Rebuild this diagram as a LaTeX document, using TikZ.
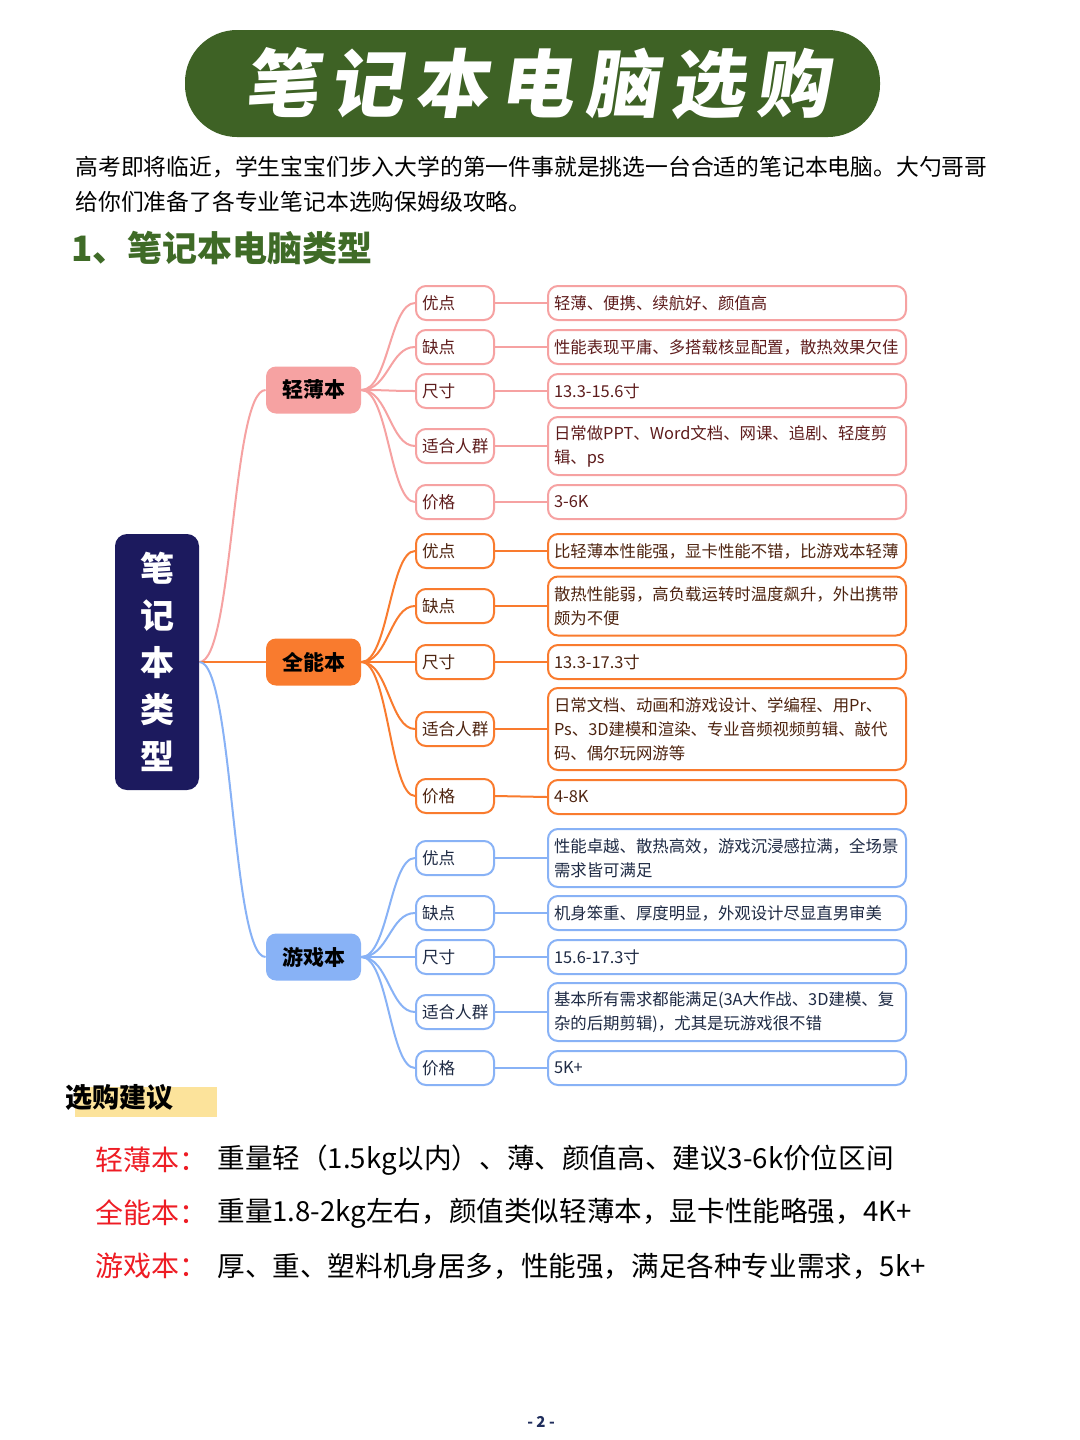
\documentclass[tikz,border=0pt]{standalone}
\usepackage{fontspec}
\usepackage{xcolor}
\usetikzlibrary{positioning}
\setmainfont{Noto Sans CJK SC}
\newfontfamily\titlefont[FakeSlant=0.15,LetterSpace=15]{Noto Sans CJK SC}

\definecolor{titlegreen}{HTML}{3E6225}
\definecolor{headgreen}{HTML}{3F6B27}
\definecolor{rootnavy}{HTML}{1C1A5E}
\definecolor{pinkB}{HTML}{F6A2A2}
\definecolor{pinkT}{HTML}{5E1C1C}
\definecolor{orangeB}{HTML}{F97B2E}
\definecolor{orangeT}{HTML}{4E2410}
\definecolor{blueB}{HTML}{88B2F6}
\definecolor{blueT}{HTML}{1E2A44}
\definecolor{hlyellow}{HTML}{FCE39B}
\definecolor{tipred}{HTML}{EE1C24}
\definecolor{pagenavy}{HTML}{1F2D5C}

\begin{document}
\begin{tikzpicture}[
    x=0.5pt, y=-0.5pt,
    root/.style={fill=rootnavy, text=white, rounded corners=6pt, minimum width=42pt, minimum height=128pt, align=center, font=\fontsize{17}{23.5}\selectfont\bfseries},
    group/.style={rounded corners=5pt, minimum width=47.5pt, minimum height=23.5pt, font=\fontsize{10.5}{12}\selectfont\bfseries},
    item/.style={draw, fill=white, line width=1pt, rounded corners=5pt, anchor=west, text width=33pt, inner xsep=3pt, minimum height=17pt, align=left, font=\fontsize{8.3}{12}\selectfont},
    detail/.style={draw, fill=white, line width=1pt, rounded corners=5pt, anchor=west, text width=173pt, inner xsep=3pt, minimum height=17pt, align=left, font=\fontsize{8.2}{12}\selectfont},
    link/.style={line width=1pt},
    tiplabel/.style={anchor=west, text=tipred, inner sep=0pt, font=\fontsize{14}{16}\selectfont},
    tiptext/.style={anchor=west, inner sep=0pt, font=\fontsize{13.8}{16}\selectfont}
]
    \useasboundingbox[fill=white] (0,0) rectangle (1080,1440);

    % Header
    \node[fill=titlegreen, rounded corners=26pt, minimum width=347.5pt, minimum height=53.5pt] (title) at (532.5,83.5) {};
    \node[text=white, font=\titlefont\bfseries\fontsize{37}{40}\selectfont] (titletext) at (537,83.5) {笔记本电脑选购};
    \node[anchor=west, inner sep=0pt, font=\fontsize{11.4}{14}\selectfont] (intro1) at (75,167) {高考即将临近，学生宝宝们步入大学的第一件事就是挑选一台合适的笔记本电脑。大勺哥哥};
    \node[anchor=west, inner sep=0pt, font=\fontsize{11.4}{14}\selectfont] (intro2) at (75,202) {给你们准备了各专业笔记本选购保姆级攻略。};
    \node[anchor=west, inner sep=0pt, text=headgreen, font=\fontsize{17.5}{20}\selectfont\bfseries] (heading) at (71,248) {1、笔记本电脑类型};

    % Root and groups
    \node[root] (types) at (157,662) {笔\\记\\本\\类\\型};
    \node[group, fill=pinkB] (thin) at (313.5,390) {轻薄本};
    \node[group, fill=orangeB] (allround) at (313.5,662) {全能本};
    \node[group, fill=blueB] (gaming) at (313.5,957) {游戏本};

    % Thin and light
    \node[item, draw=pinkB, text=pinkT] (thin-pro) at (415,303) {优点};
    \node[item, draw=pinkB, text=pinkT] (thin-con) at (415,347) {缺点};
    \node[item, draw=pinkB, text=pinkT] (thin-size) at (415,391) {尺寸};
    \node[item, draw=pinkB, text=pinkT] (thin-user) at (415,446) {适合人群};
    \node[item, draw=pinkB, text=pinkT] (thin-price) at (415,502) {价格};
    \node[detail, draw=pinkB, text=pinkT] (thin-pro-d) at (547,303) {轻薄、便携、续航好、颜值高};
    \node[detail, draw=pinkB, text=pinkT] (thin-con-d) at (547,347) {性能表现平庸、多搭载核显配置，散热效果欠佳};
    \node[detail, draw=pinkB, text=pinkT] (thin-size-d) at (547,391) {13.3-15.6寸};
    \node[detail, draw=pinkB, text=pinkT, minimum height=29pt] (thin-user-d) at (547,446) {日常做PPT、Word文档、网课、追剧、轻度剪\\辑、ps};
    \node[detail, draw=pinkB, text=pinkT] (thin-price-d) at (547,502) {3-6K};

    % All-round
    \node[item, draw=orangeB, text=orangeT] (all-pro) at (415,551) {优点};
    \node[item, draw=orangeB, text=orangeT] (all-con) at (415,606) {缺点};
    \node[item, draw=orangeB, text=orangeT] (all-size) at (415,662) {尺寸};
    \node[item, draw=orangeB, text=orangeT] (all-user) at (415,729) {适合人群};
    \node[item, draw=orangeB, text=orangeT] (all-price) at (415,796) {价格};
    \node[detail, draw=orangeB, text=orangeT] (all-pro-d) at (547,551) {比轻薄本性能强，显卡性能不错，比游戏本轻薄};
    \node[detail, draw=orangeB, text=orangeT, minimum height=29.5pt] (all-con-d) at (547,606) {散热性能弱，高负载运转时温度飙升，外出携带\\颇为不便};
    \node[detail, draw=orangeB, text=orangeT] (all-size-d) at (547,662) {13.3-17.3寸};
    \node[detail, draw=orangeB, text=orangeT, minimum height=41pt] (all-user-d) at (547,729) {日常文档、动画和游戏设计、学编程、用Pr、\\Ps、3D建模和渲染、专业音频视频剪辑、敲代\\码、偶尔玩网游等};
    \node[detail, draw=orangeB, text=orangeT] (all-price-d) at (547,797) {4-8K};

    % Gaming
    \node[item, draw=blueB, text=blueT] (game-pro) at (415,858) {优点};
    \node[item, draw=blueB, text=blueT] (game-con) at (415,913) {缺点};
    \node[item, draw=blueB, text=blueT] (game-size) at (415,957) {尺寸};
    \node[item, draw=blueB, text=blueT] (game-user) at (415,1012) {适合人群};
    \node[item, draw=blueB, text=blueT] (game-price) at (415,1068) {价格};
    \node[detail, draw=blueB, text=blueT, minimum height=29pt] (game-pro-d) at (547,858) {性能卓越、散热高效，游戏沉浸感拉满，全场景\\需求皆可满足};
    \node[detail, draw=blueB, text=blueT] (game-con-d) at (547,913) {机身笨重、厚度明显，外观设计尽显直男审美};
    \node[detail, draw=blueB, text=blueT] (game-size-d) at (547,957) {15.6-17.3寸};
    \node[detail, draw=blueB, text=blueT, minimum height=29pt] (game-user-d) at (547,1012) {基本所有需求都能满足(3A大作战、3D建模、复\\杂的后期剪辑)，尤其是玩游戏很不错};
    \node[detail, draw=blueB, text=blueT] (game-price-d) at (547,1068) {5K+};

    % Links
    \draw[link, pinkB] (types.east) .. controls +(34,0) and +(-34,0) .. (thin.west);
    \draw[link, orangeB] (types.east) -- (allround.west);
    \draw[link, blueB] (types.east) .. controls +(34,0) and +(-34,0) .. (gaming.west);
    \foreach \k in {pro,con,size,user,price} {
        \draw[link, pinkB] (thin.east) .. controls +(27,0) and +(-25,0) .. (thin-\k.west);
        \draw[link, pinkB] (thin-\k.east) -- (thin-\k-d.west);
        \draw[link, orangeB] (allround.east) .. controls +(27,0) and +(-25,0) .. (all-\k.west);
        \draw[link, orangeB] (all-\k.east) -- (all-\k-d.west);
        \draw[link, blueB] (gaming.east) .. controls +(27,0) and +(-25,0) .. (game-\k.west);
        \draw[link, blueB] (game-\k.east) -- (game-\k-d.west);
    }

    % Buying tips
    \fill[hlyellow] (75,1087) rectangle (217,1117);
    \node[anchor=west, inner sep=0pt, font=\fontsize{13.5}{16}\selectfont\bfseries] (tips) at (65,1097) {选购建议};
    \node[tiplabel] (tip-thin) at (95,1160) {轻薄本：};
    \node[tiptext] (tip-thin-text) at (217,1160) {重量轻（1.5kg以内）、薄、颜值高、建议3-6k价位区间};
    \node[tiplabel] (tip-all) at (95,1213) {全能本：};
    \node[tiptext] (tip-all-text) at (217,1213) {重量1.8-2kg左右，颜值类似轻薄本，显卡性能略强，4K+};
    \node[tiplabel] (tip-game) at (95,1266) {游戏本：};
    \node[tiptext] (tip-game-text) at (217,1266) {厚、重、塑料机身居多，性能强，满足各种专业需求，5k+};

    % Page number
    \node[text=pagenavy, font=\fontsize{7.5}{9}\selectfont\bfseries] (page) at (541,1422) {- 2 -};
\end{tikzpicture}
\end{document}
